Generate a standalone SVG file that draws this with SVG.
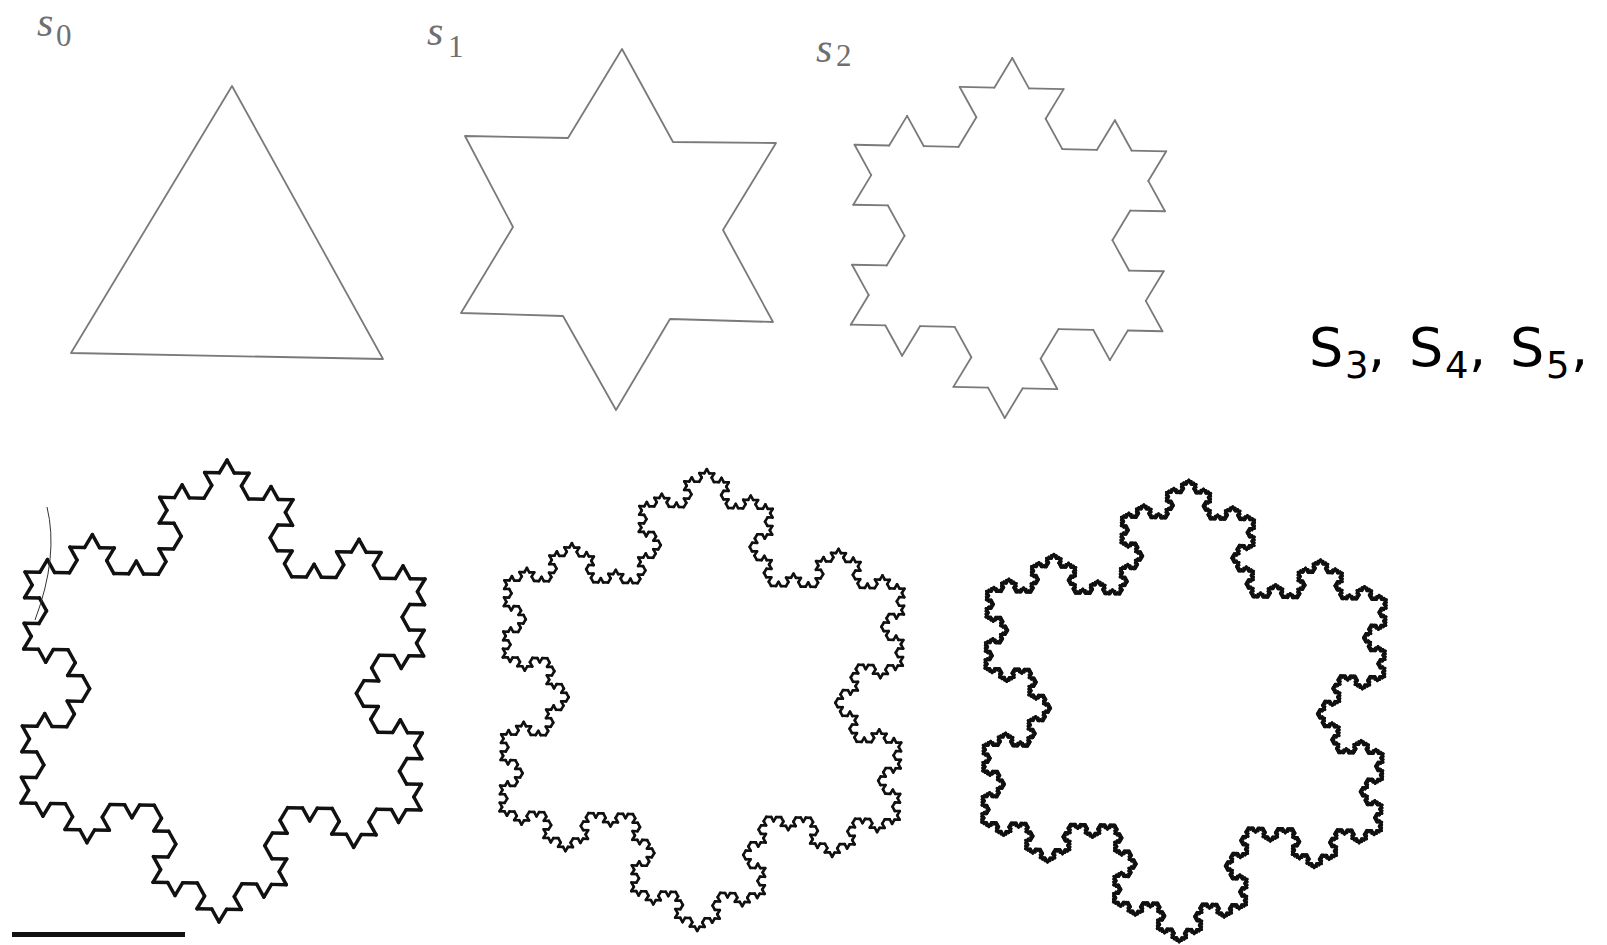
<svg xmlns="http://www.w3.org/2000/svg" xmlns:xlink="http://www.w3.org/1999/xlink" width="1607" height="945" viewBox="0 0 1607 945">
<style>
.lab{font-family:"Liberation Serif","Times New Roman",serif;font-style:italic;fill:#6f6f6f}
.sub{font-family:"Liberation Serif","Times New Roman",serif;fill:#6f6f6f}
.big{font-family:"DejaVu Sans",Verdana,sans-serif;fill:#000}
.gray{fill:none;stroke:#7a7a7a;stroke-linejoin:round;stroke-linecap:round}
.blk{fill:none;stroke:#111;stroke-linejoin:round;stroke-linecap:round}
</style>
<defs>
<path id="k0" d="M0,0 L1,0"/>
<g id="k1">
<use xlink:href="#k0" transform="scale(0.3333333)"/>
<use xlink:href="#k0" transform="translate(0.3333333,0) rotate(-60) scale(0.3333333)"/>
<use xlink:href="#k0" transform="translate(0.5,-0.2886751) rotate(60) scale(0.3333333)"/>
<use xlink:href="#k0" transform="translate(0.6666667,0) scale(0.3333333)"/>
</g>
<g id="k2">
<use xlink:href="#k1" transform="scale(0.3333333)"/>
<use xlink:href="#k1" transform="translate(0.3333333,0) rotate(-60) scale(0.3333333)"/>
<use xlink:href="#k1" transform="translate(0.5,-0.2886751) rotate(60) scale(0.3333333)"/>
<use xlink:href="#k1" transform="translate(0.6666667,0) scale(0.3333333)"/>
</g>
<g id="k3">
<use xlink:href="#k2" transform="scale(0.3333333)"/>
<use xlink:href="#k2" transform="translate(0.3333333,0) rotate(-60) scale(0.3333333)"/>
<use xlink:href="#k2" transform="translate(0.5,-0.2886751) rotate(60) scale(0.3333333)"/>
<use xlink:href="#k2" transform="translate(0.6666667,0) scale(0.3333333)"/>
</g>
<g id="k4">
<use xlink:href="#k3" transform="scale(0.3333333)"/>
<use xlink:href="#k3" transform="translate(0.3333333,0) rotate(-60) scale(0.3333333)"/>
<use xlink:href="#k3" transform="translate(0.5,-0.2886751) rotate(60) scale(0.3333333)"/>
<use xlink:href="#k3" transform="translate(0.6666667,0) scale(0.3333333)"/>
</g>
<g id="k5">
<use xlink:href="#k4" transform="scale(0.3333333)"/>
<use xlink:href="#k4" transform="translate(0.3333333,0) rotate(-60) scale(0.3333333)"/>
<use xlink:href="#k4" transform="translate(0.5,-0.2886751) rotate(60) scale(0.3333333)"/>
<use xlink:href="#k4" transform="translate(0.6666667,0) scale(0.3333333)"/>
</g>
<g id="f2">
<use xlink:href="#k2" transform="translate(0,-1) rotate(60) scale(1.7320508)"/>
<use xlink:href="#k2" transform="translate(0.8660254,0.5) rotate(180) scale(1.7320508)"/>
<use xlink:href="#k2" transform="translate(-0.8660254,0.5) rotate(-60) scale(1.7320508)"/>
</g>
<g id="f3">
<use xlink:href="#k3" transform="translate(0,-1) rotate(60) scale(1.7320508)"/>
<use xlink:href="#k3" transform="translate(0.8660254,0.5) rotate(180) scale(1.7320508)"/>
<use xlink:href="#k3" transform="translate(-0.8660254,0.5) rotate(-60) scale(1.7320508)"/>
</g>
<g id="f4">
<use xlink:href="#k4" transform="translate(0,-1) rotate(60) scale(1.7320508)"/>
<use xlink:href="#k4" transform="translate(0.8660254,0.5) rotate(180) scale(1.7320508)"/>
<use xlink:href="#k4" transform="translate(-0.8660254,0.5) rotate(-60) scale(1.7320508)"/>
</g>
<g id="f5">
<use xlink:href="#k5" transform="translate(0,-1) rotate(60) scale(1.7320508)"/>
<use xlink:href="#k5" transform="translate(0.8660254,0.5) rotate(180) scale(1.7320508)"/>
<use xlink:href="#k5" transform="translate(-0.8660254,0.5) rotate(-60) scale(1.7320508)"/>
</g>
</defs>
<rect width="1607" height="945" fill="#fff"/>

<g id="s0">
<polygon class="gray" stroke-width="1.8" points="232,86 383,359 71,353"/>
<text class="lab" x="37" y="36" font-size="42">s</text>
<text class="sub" x="56" y="46" font-size="31">0</text>
</g>

<g id="s1">
<polygon class="gray" stroke-width="1.8" points="622,49 673,142 776,143 723,230 773,322 670,319 616,410 563,316 461,313 513,227 465,136 568,138"/>
<text class="lab" x="427" y="45" font-size="42">s</text>
<text class="sub" x="448" y="57" font-size="31">1</text>
</g>

<g id="s2">
<g class="gray" stroke-width="0.052" transform="translate(1008.5,238) rotate(1.2) scale(180)"><use xlink:href="#f2"/></g>
<text class="lab" x="816" y="62" font-size="42">s</text>
<text class="sub" x="836" y="66" font-size="31">2</text>
</g>

<g id="label-s345">
<text class="big" font-size="54" y="366"><tspan x="1309">S</tspan><tspan x="1345" y="378" font-size="37">3</tspan><tspan x="1368" y="366">,</tspan><tspan x="1409">S</tspan><tspan x="1445" y="378" font-size="37">4</tspan><tspan x="1469" y="366">,</tspan><tspan x="1510">S</tspan><tspan x="1546" y="378" font-size="37">5</tspan><tspan x="1571" y="366">,</tspan></text>
</g>

<g id="s3">
<g class="blk" stroke-width="0.235" transform="translate(223,691) rotate(1) scale(231)"><use xlink:href="#f3"/></g>
</g>

<g id="s4">
<g class="blk" stroke-width="0.54" transform="translate(702,700) rotate(1.2) scale(231)"><use xlink:href="#f4"/></g>
</g>

<g id="s5">
<g class="blk" stroke-width="1.75" transform="translate(1184,711) rotate(1.2) scale(231)"><use xlink:href="#f5"/></g>
</g>

<g id="marks">
<rect x="12" y="932" width="173" height="5" fill="#111"/>
<path d="M47,507 Q59,556 35,620" fill="none" stroke="#333" stroke-width="1"/>
</g>
</svg>
